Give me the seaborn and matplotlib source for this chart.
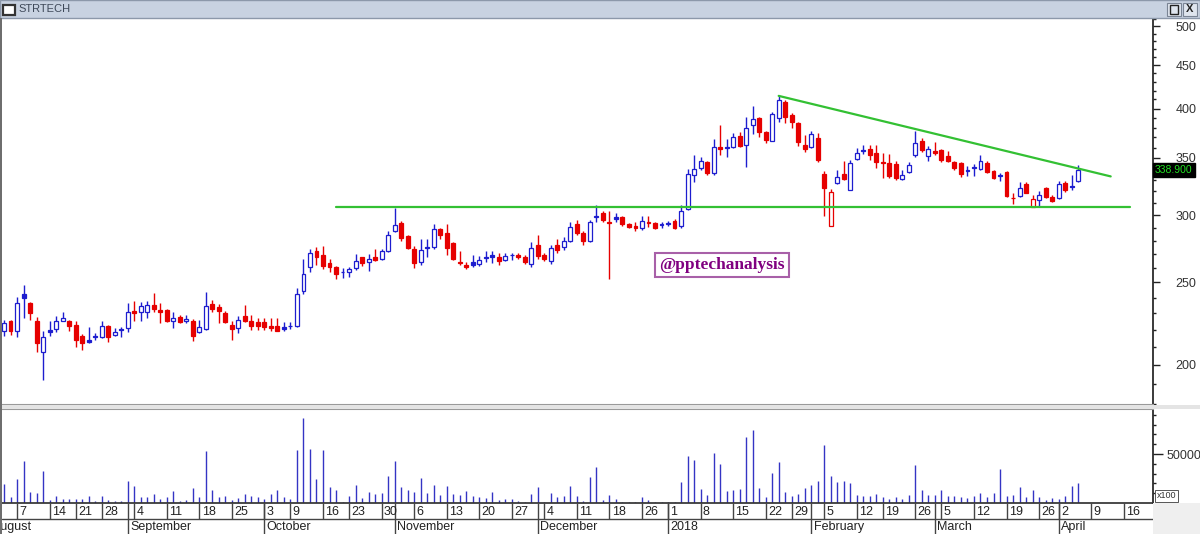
import numpy as np
import pandas as pd
import matplotlib
matplotlib.use("Agg")
import matplotlib.pyplot as plt
import matplotlib.ticker as mtick
from matplotlib.patches import Rectangle
import seaborn as sns

symbol = "STRTECH"

# NSE trading calendar (Oct 19 muhurat session kept)
nse_holidays = ["2017-08-15", "2017-08-25", "2017-10-02", "2017-10-20", "2017-12-25",
                "2018-01-26", "2018-02-13", "2018-03-02", "2018-03-29", "2018-03-30"]
calendar = pd.bdate_range("2017-08-01", "2018-04-20")
calendar = calendar[~calendar.isin(pd.to_datetime(nse_holidays))]
first_candle = "2017-08-03"

# daily OHLC
opens = [219, 225, 219, 242, 236.5, 225.5, 207, 220, 220.5, 225.5,
         225, 223, 216.5, 214, 216.5, 216, 222, 217, 220.5, 221,
         231.5, 231, 230.5, 235.5, 232, 232, 225.5, 228, 225, 225.5,
         218.5, 220.5, 236, 234, 230, 223, 221, 228.5, 225.5, 224.5,
         224.5, 222.5, 222.5, 221.5, 222.5, 222, 244.5, 261, 272.5, 269.5,
         263.5, 261, 257.5, 257.5, 260, 267.5, 264, 267.5, 266.5, 272,
         287, 293.5, 283.5, 274, 264, 275.5, 275.5, 288.5, 286, 278.5,
         264.5, 262, 264.5, 262.5, 268, 269, 268, 266, 269.5, 269.5,
         268, 263, 277, 269.5, 265, 277, 275.5, 280, 293, 286,
         280, 298.5, 302, 294.5, 298, 298, 293, 291, 290, 294.5,
         293.5, 292.5, 293.5, 295.5, 291, 305, 334.5, 341, 346, 336,
         361, 361, 360.5, 371.5, 362.5, 382.5, 390, 375.5, 366.5, 390,
         407, 393.5, 384.5, 362.5, 360.5, 369.5, 335, 291, 327, 335.5,
         321, 349, 357.5, 358.5, 355, 346.5, 345, 344, 331, 337,
         353, 366.5, 351.5, 356.5, 357.5, 351.5, 346.5, 345.5, 338.5, 342,
         340, 345.5, 338, 334, 337, 314.5, 316, 326.5, 306.7, 312.6,
         323, 315, 314.5, 327.5, 324.5, 329]
highs = [226, 226, 240.5, 248.5, 237, 228, 219.5, 225.5, 228.5, 231,
         226, 225.5, 217.5, 221.5, 218, 225, 223, 221, 221.5, 236.5,
         238, 237, 238, 243, 236.5, 233, 231, 229, 229, 226.5,
         226, 243.5, 238.5, 236, 231.5, 225.5, 228.5, 235.5, 229, 227,
         227, 227, 227, 224.5, 224.5, 246.5, 266.5, 274, 275, 276,
         266.5, 261.5, 260, 261, 270, 268, 270, 274, 273.5, 287.5,
         306, 295, 284, 276, 281, 281, 293, 290, 293, 279,
         272, 264, 269.5, 268.5, 272.5, 272.5, 271, 271, 271, 271,
         269.5, 279, 284.5, 271, 277, 281.5, 282.5, 294, 296, 287.5,
         296, 308.5, 303, 303, 301.5, 299, 293.5, 294, 299, 299,
         294, 294, 295.5, 296.5, 308.5, 340, 352.5, 350.5, 347, 368.5,
         382.5, 368.5, 374, 375, 391.5, 403, 391, 376, 396.5, 414,
         409, 395, 386, 372.5, 376, 374, 337.7, 322, 338.5, 347,
         348, 359.5, 362.5, 362.5, 362.5, 354.5, 354, 347, 339, 346.5,
         376.5, 369, 361.5, 365.5, 358.5, 356.5, 347.5, 346.5, 342.5, 344.5,
         352.5, 347, 339, 336.5, 338, 318.5, 328, 328, 316.5, 320.5,
         324, 317, 328.5, 329, 334.5, 343.5]
lows = [216.5, 217, 216, 227, 226, 207, 192, 216.5, 218.5, 225,
        219.5, 210, 208.5, 212.5, 214, 215, 213, 216.5, 215.5, 218.5,
        225.5, 225.5, 227, 230.5, 224, 224.5, 221, 224, 224, 213.5,
        218, 219.8, 231, 224, 224, 214, 218, 224.5, 220, 220,
        220, 219.5, 219, 219, 220.5, 221.5, 242, 257.5, 262, 259,
        257, 252.5, 253, 254, 258.5, 261.5, 258, 265, 266, 271.5,
        286.5, 280, 274, 260, 262, 268, 274, 281, 269, 266,
        262, 259.5, 261, 261.5, 264, 263.5, 262, 265, 266, 266.5,
        263, 261, 266.5, 265, 263, 270.5, 273, 279, 284.5, 277,
        279, 294, 294.5, 252.5, 294, 291, 289.5, 287.5, 288, 290.5,
        288.5, 290, 291, 288.5, 290, 304.5, 328, 338.5, 334, 334.5,
        353, 351, 359.5, 360.5, 341.5, 373.5, 370, 364.5, 366, 386,
        384.5, 380, 362, 356, 360, 346.5, 299, 291, 326, 330,
        321, 348, 354, 348, 341, 331.5, 332, 330, 330, 336,
        351, 356, 347, 353, 346.5, 346, 339, 332.5, 333, 333.5,
        339, 336, 330.5, 329, 315, 309, 315, 318, 306.5, 307.5,
        314.5, 310.5, 313.5, 319.5, 321, 328]
closes = [224, 219, 236.5, 240, 230, 212, 216, 218.5, 225.5, 227,
          222, 214, 212.5, 213, 215.5, 222, 215.5, 218.5, 220, 230.5,
          230, 234.5, 235, 232.5, 231, 225.5, 227, 224.5, 226.5, 216.5,
          221.5, 234.5, 232.5, 231.5, 224.5, 220.5, 226, 225.5, 222.5, 222,
          221.5, 221.2, 219.5, 220.5, 222, 242.5, 256, 271, 268, 261.5,
          261, 255.5, 257, 259.5, 265, 263.5, 266.5, 266, 272.5, 284,
          292, 282, 274.5, 263.5, 273, 274.5, 289, 284.5, 274.5, 266.5,
          263.5, 261, 262, 266, 267, 268, 265, 268.5, 269, 268,
          264, 274.5, 268.5, 266.5, 274.5, 273, 280, 290.5, 286, 280,
          294.5, 299.5, 296, 293.5, 297, 293, 290.5, 290, 295.5, 293.5,
          290, 292, 293, 290, 303, 335, 340, 347, 336, 360.5,
          359, 360, 370.5, 361.5, 379.5, 389, 375.5, 367.5, 394.5, 409,
          390.5, 385.5, 365.5, 358.5, 373.5, 348, 323, 319.5, 332.5, 331,
          345.5, 355, 356.5, 353, 346.5, 345, 333.5, 332, 334.5, 343.5,
          364.5, 357.5, 358.5, 355, 348, 347.5, 341, 335.5, 337.5, 341,
          347, 337, 331.7, 333, 316, 314, 323, 318.5, 313.5, 317,
          315.2, 312, 326.5, 321, 324, 338.9]
volume = [19300, 5700, 24700, 42700, 11000, 10000, 32700, 3300, 7300, 4300,
          3700, 4300, 4300, 7300, 2300, 6700, 2700, 1700, 2300, 22300,
          17300, 6000, 5700, 9000, 4300, 6300, 12000, 1700, 2700, 15300,
          5700, 53300, 13700, 6300, 7300, 3300, 4700, 9300, 7300, 6300,
          3700, 9000, 13000, 6300, 4300, 54300, 87000, 55300, 24300, 54300,
          16000, 13000, 700, 7300, 18000, 5300, 11000, 9000, 10000, 28000,
          43300, 16000, 13000, 11700, 25300, 10000, 18000, 8300, 17000, 9000,
          8000, 12000, 7000, 6000, 5300, 11000, 3000, 4000, 4000, 1700,
          700, 9000, 16000, 1000, 10000, 6300, 7300, 17300, 7300, 1700,
          26300, 36300, 3300, 8300, 4300, 1000, 700, 700, 5700, 2700,
          1000, 700, 700, 700, 21000, 48300, 44300, 14000, 8300, 51000,
          40000, 12000, 13300, 14700, 67300, 74300, 15300, 6000, 30300, 41700,
          11300, 7300, 9300, 15700, 18300, 22300, 59300, 27300, 21000, 22000,
          20000, 8300, 6700, 7300, 9300, 6300, 4000, 5700, 4000, 8300,
          38300, 13300, 8300, 8300, 13300, 7300, 6700, 5700, 4700, 6700,
          10000, 5700, 10700, 34300, 7300, 8300, 16000, 5700, 13000, 6300,
          2700, 4700, 4300, 7300, 17700, 20000]

# drawn support / resistance lines
support_dates = ["2017-10-18", "2018-04-17"]
support_values = [306.2, 306.2]
trend_dates = ["2018-01-24", "2018-04-12"]
trend_values = [414, 333]

price_ticks = [200, 250, 300, 350, 400, 450, 500]
price_minor = list(range(180, 511, 10))
volume_ticks = [50000]
volume_minor = list(range(10000, 96000, 10000))
watermark = "@pptechanalysis"

BLUE = "#1d1dcf"
RED = "#e60000"
GREEN = "#33c033"
W, H = 1200, 534

sns.set_theme(style="white")
plt.rcParams["font.family"] = ["Liberation Sans", "DejaVu Sans"]

pos = pd.Series(np.arange(len(calendar)), index=calendar)
start = pos[pd.Timestamp(first_candle)]
x = np.arange(start, start + len(closes))
o, h, l, c = (np.asarray(a, dtype=float) for a in (opens, highs, lows, closes))
prev = np.r_[o[0], c[:-1]]
edge = np.where(c >= prev, BLUE, RED)
face = np.where(c < o, edge, "white")

xlim = (1.69, 178.5)
left, right = 2 / W, 1153 / W

fig = plt.figure(figsize=(W / 100, H / 100), dpi=100)
fig.patch.set_facecolor("white")

ax = fig.add_axes([left, 1 - 405 / H, right - left, 387 / H])
axv = fig.add_axes([left, 31 / H, right - left, 94 / H])
axd = fig.add_axes([left, 0, right - left, 31 / H])

# ---- price panel
ax.vlines(x, l, h, colors=edge, lw=1, zorder=2)
ax.bar(x, np.maximum(np.abs(c - o), 0.2), bottom=np.minimum(o, c), width=0.6,
       color=face, edgecolor=edge, linewidth=0.9, zorder=3)

sns.lineplot(x=pos[pd.to_datetime(support_dates)].values, y=support_values,
             ax=ax, color=GREEN, lw=1.6, zorder=4)
sns.lineplot(x=pos[pd.to_datetime(trend_dates)].values, y=trend_values,
             ax=ax, color=GREEN, lw=1.6, zorder=4)

ax.set_yscale("log")
ax.set_ylim(179.5, 511)
ax.set_xlim(xlim)
ax.set_xticks([])
ax.yaxis.tick_right()
ax.yaxis.set_major_locator(mtick.FixedLocator(price_ticks))
ax.yaxis.set_major_formatter(mtick.FixedFormatter([str(v) for v in price_ticks]))
ax.yaxis.set_minor_locator(mtick.FixedLocator([v for v in price_minor if v not in price_ticks]))
ax.yaxis.set_minor_formatter(mtick.NullFormatter())
ax.tick_params(axis="y", which="major", right=True, left=False, length=5, width=1,
               pad=11, labelsize=9, labelcolor="#333333", color="#222222", direction="out")
ax.tick_params(axis="y", which="minor", right=True, left=False, length=2.5, width=1,
               color="#222222", direction="out")
for s in ("left", "top"):
    ax.spines[s].set_visible(False)
ax.spines["right"].set_color("#222222")
ax.spines["bottom"].set_color("#9a9a9a")
ax.spines["bottom"].set_linewidth(1.5)

ax.text(1.0015, c[-1], f"{c[-1]:.3f}", transform=ax.get_yaxis_transform(),
        fontsize=7.5, color="#22e022", ha="left", va="center", zorder=10,
        bbox=dict(fc="black", ec="black", pad=1.6), clip_on=False)

ax.text(0.6255, 0.362, watermark, transform=ax.transAxes, ha="center", va="center",
        fontsize=12.5, fontweight="bold", color="#800080",
        family=["Liberation Serif", "DejaVu Serif"],
        bbox=dict(fc="white", ec="#a860a8", lw=1.5, boxstyle="square,pad=0.25"))

# ---- volume panel
axv.vlines(x, 0, volume, colors="#3434c4", lw=1)
axv.set_xlim(xlim)
axv.set_ylim(0, 96000)
axv.set_xticks([])
axv.yaxis.tick_right()
axv.yaxis.set_major_locator(mtick.FixedLocator(volume_ticks))
axv.yaxis.set_major_formatter(mtick.FixedFormatter([str(v) for v in volume_ticks]))
axv.yaxis.set_minor_locator(mtick.FixedLocator(volume_minor))
axv.yaxis.set_minor_formatter(mtick.NullFormatter())
axv.tick_params(axis="y", which="major", right=True, left=False, length=7, width=1,
                pad=3, labelsize=9, labelcolor="#333333", color="#222222", direction="out")
axv.tick_params(axis="y", which="minor", right=True, left=False, length=2.5, width=1,
                color="#222222", direction="out")
axv.spines["left"].set_visible(False)
axv.spines["top"].set_color("#9a9a9a")
axv.spines["top"].set_linewidth(1.5)
axv.spines["right"].set_color("#222222")
axv.spines["bottom"].set_color("#333333")
axv.text(1.003, 0.03, "x100", transform=axv.transAxes, fontsize=6.5, color="#333333",
         ha="left", va="bottom", bbox=dict(fc="white", ec="#555555", lw=0.7, pad=1.2))

# ---- date strip
axd.set_xlim(xlim)
axd.set_ylim(0, 2)
axd.axis("off")
axd.axhline(1, color="#444444", lw=1)
wk = calendar.to_period("W")
new_week = np.r_[True, wk[1:] != wk[:-1]]
mo = calendar.month
new_month = np.r_[True, mo[1:] != mo[:-1]]
for i, d in enumerate(calendar):
    if new_week[i] and i > xlim[0]:
        axd.vlines(i, 1, 2, color="#444444", lw=1)
        axd.text(i + 0.35, 1.45, str(d.day), fontsize=9, color="#222222",
                 ha="left", va="center", clip_on=True)
    if new_month[i]:
        axd.vlines(i, 0, 2, color="#444444", lw=1)
        name = str(d.year) if d.month == 1 else d.strftime("%B")
        axd.text(i + 0.35, 0.45, name, fontsize=9, color="#222222",
                 ha="left", va="center", clip_on=True)

# ---- window chrome
fig.patches.append(Rectangle((0, 1 - 18 / H), 1, 18 / H, transform=fig.transFigure,
                             fc="#c8d2e1", ec="#8c98aa", lw=1, zorder=0))
fig.patches.append(Rectangle((3 / W, 1 - 15 / H), 12 / W, 10 / H, transform=fig.transFigure,
                             fc="white", ec="#333333", lw=1.6, zorder=1))
fig.text(18 / W, 1 - 9.5 / H, symbol, fontsize=8, color="#3e4858", va="center", ha="left")
fig.patches.append(Rectangle((1167 / W, 1 - 16 / H), 14 / W, 13 / H, transform=fig.transFigure,
                             fc="#dfe5ee", ec="#7a8494", lw=0.8, zorder=1))
fig.patches.append(Rectangle((1170 / W, 1 - 13.5 / H), 8 / W, 8 / H, transform=fig.transFigure,
                             fc="none", ec="#222222", lw=1, zorder=2))
fig.patches.append(Rectangle((1183 / W, 1 - 16 / H), 14 / W, 13 / H, transform=fig.transFigure,
                             fc="#dfe5ee", ec="#7a8494", lw=0.8, zorder=1))
fig.text(1190 / W, 1 - 9.5 / H, "X", fontsize=8, color="#222222", ha="center", va="center",
         fontweight="bold")
fig.patches.append(Rectangle((0, 0), 1.5 / W, 1 - 18 / H, transform=fig.transFigure,
                             fc="#6e6e6e", ec="none", zorder=5))
fig.patches.append(Rectangle((1153 / W, 0), 47 / W, 31 / H, transform=fig.transFigure,
                             fc="#efefef", ec="none", zorder=0))
fig.patches.append(Rectangle((0, 1 - 409 / H), 1, 4 / H, transform=fig.transFigure,
                             fc="#e4e4e4", ec="none", zorder=0))

fig.savefig("out.png", dpi=100)
